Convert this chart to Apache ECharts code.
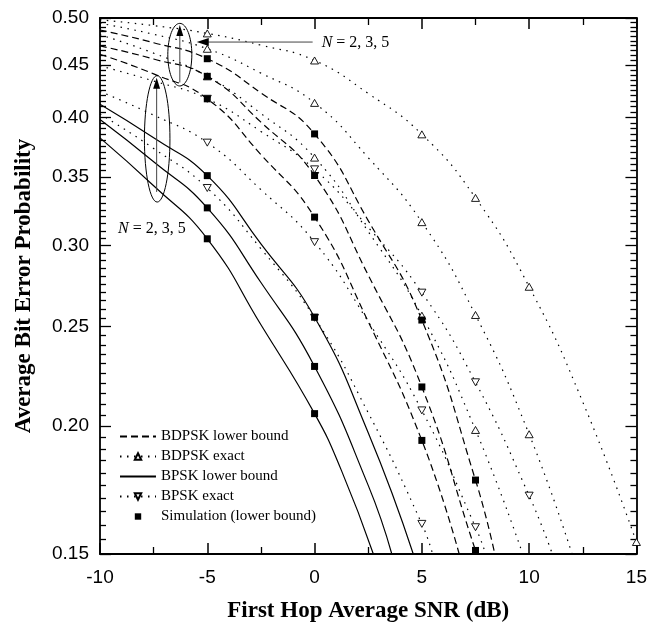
<!DOCTYPE html>
<html>
<head>
<meta charset="utf-8">
<script src="https://cdn.jsdelivr.net/npm/echarts@6.0.0/dist/echarts.min.js"></script>
<style>
html, body { margin: 0; padding: 0; background: #fff; }
#main { width: 650px; height: 628px; }
</style>
</head>
<body>
<div id="main"></div>
<script>
// BER vs first hop SNR ([snr dB, probability])
var yTickLabels = [0.15, 0.20, 0.25, 0.30, 0.35, 0.40, 0.45, 0.50];
var markerSnr = [-5, 0, 5, 7.5, 10, 15];

var bdpskLbN5 = [[-10, 0.4867], [-7.5, 0.473], [-5, 0.4563], [-2.5, 0.4225], [0, 0.3854], [2.5, 0.3172], [5, 0.2537], [7.5, 0.1771], [8.4, 0.15]];
var bdpskLbN3 = [[-10, 0.4696], [-7.5, 0.456], [-5, 0.4386], [-2.5, 0.3957], [0, 0.351], [2.5, 0.2806], [5, 0.2183], [7.5, 0.1512], [7.6, 0.15]];
var bdpskLbN2 = [[-10, 0.4609], [-7.5, 0.441], [-5, 0.417], [-2.5, 0.3679], [0, 0.3197], [2.5, 0.2528], [5, 0.1936], [6.74, 0.15]];

var bdpskExN5 = [[-10, 0.498], [-7.5, 0.4915], [-5, 0.483], [-2.5, 0.4704], [0, 0.4545], [2.5, 0.422], [5, 0.385], [7.5, 0.3338], [10, 0.2734], [12.5, 0.211], [15, 0.1541]];
var bdpskExN3 = [[-10, 0.4941], [-7.5, 0.482], [-5, 0.4666], [-2.5, 0.4418], [0, 0.4132], [2.5, 0.3654], [5, 0.3161], [7.5, 0.2566], [10, 0.1963], [12.0, 0.15]];
var bdpskExN2 = [[-10, 0.4815], [-7.5, 0.462], [-5, 0.4386], [-2.5, 0.4035], [0, 0.3654], [2.5, 0.3095], [5, 0.2562], [7.5, 0.1982], [9.7, 0.15]];

var bpskLbN5 = [[-10, 0.412], [-7.5, 0.382], [-5, 0.3509], [-2.5, 0.301], [0, 0.2553], [2.5, 0.197], [4.6, 0.15]];
var bpskLbN3 = [[-10, 0.398], [-7.5, 0.362], [-5, 0.3264], [-2.5, 0.276], [0, 0.2286], [2.5, 0.175], [3.6, 0.15]];
var bpskLbN2 = [[-10, 0.382], [-7.5, 0.343], [-5, 0.3045], [-2.5, 0.251], [0, 0.2056], [1.25, 0.181], [2.74, 0.15]];

var bpskExN5 = [[-10, 0.449], [-7.5, 0.434], [-5, 0.417], [-2.5, 0.3875], [0, 0.3559], [2.5, 0.3125], [5, 0.2698], [7.5, 0.2206], [10, 0.171], [11.08, 0.15]];
var bpskExN3 = [[-10, 0.424], [-7.5, 0.402], [-5, 0.3779], [-2.5, 0.340], [0, 0.3022], [2.5, 0.2528], [5, 0.2071], [7.5, 0.1593], [7.98, 0.15]];
var bpskExN2 = [[-10, 0.403], [-7.5, 0.373], [-5, 0.3413], [-2.5, 0.2978], [0, 0.255], [2.5, 0.206], [5, 0.1605], [5.5, 0.15]];

var lg = function (v) { return Math.log10(v); };
var serif = "'Liberation Serif', 'Times New Roman', serif";
var sans = "'Liberation Sans', Arial, sans-serif";

var majorLog = yTickLabels.map(lg);
var minorLog = [];
for (var i = 31; i < 100; i++) {
	if (i % 10 != 0) minorLog.push(lg(i * 0.005));
}

var DASH = [7, 4];
var DOT = [1.5, 5.5];

function curve(name, pts, dash, marker, rotate) {
	var data = pts.map(function (p) {
		var mark = marker && markerSnr.indexOf(p[0]) >= 0;
		return { value: [p[0], lg(p[1])], symbol: mark ? marker : 'none' };
	});
	return {
		type: 'line', name: name, data: data,
		smooth: 0.5,
		showSymbol: true, showAllSymbol: true,
		symbol: marker || 'none', symbolSize: [8, 7], symbolRotate: rotate || 0,
		lineStyle: { color: '#000', width: 1.2, type: dash },
		itemStyle: marker ? { color: '#fff', borderColor: '#000', borderWidth: 0.9 } : { color: '#000', opacity: 0 },
		silent: true
	};
}

function simPoints(curves) {
	var out = [];
	curves.forEach(function (c) {
		c.forEach(function (p) {
			if (markerSnr.indexOf(p[0]) >= 0) out.push([p[0], lg(p[1])]);
		});
	});
	return out;
}

var series = [
	curve('BDPSK lower bound', bdpskLbN5, DASH),
	curve('BDPSK lower bound', bdpskLbN3, DASH),
	curve('BDPSK lower bound', bdpskLbN2, DASH),
	curve('BDPSK exact', bdpskExN5, DOT, 'triangle'),
	curve('BDPSK exact', bdpskExN3, DOT, 'triangle'),
	curve('BDPSK exact', bdpskExN2, DOT, 'triangle'),
	curve('BPSK lower bound', bpskLbN5, 'solid'),
	curve('BPSK lower bound', bpskLbN3, 'solid'),
	curve('BPSK lower bound', bpskLbN2, 'solid'),
	curve('BPSK exact', bpskExN5, DOT, 'triangle', 180),
	curve('BPSK exact', bpskExN3, DOT, 'triangle', 180),
	curve('BPSK exact', bpskExN2, DOT, 'triangle', 180),
	{
		// markers only: the connecting line is hidden
		type: 'line', name: 'Simulation (lower bound)',
		data: simPoints([bdpskLbN5, bdpskLbN3, bdpskLbN2, bpskLbN5, bpskLbN3, bpskLbN2]),
		symbol: 'rect', symbolSize: 7, showAllSymbol: true,
		lineStyle: { width: 0, opacity: 0 },
		itemStyle: { color: '#000' }, silent: true, z: 5
	}
];

var axisLine = { show: true, onZero: false, lineStyle: { color: '#000', width: 1.8 } };
var yMin = lg(0.15), yMax = lg(0.5);

function yAx(pos, values, len, major) {
	return {
		type: 'value', min: yMin, max: yMax, position: pos,
		axisLine: major ? axisLine : { show: false, onZero: false },
		axisTick: { show: true, inside: true, length: len, customValues: values, lineStyle: { color: '#000', width: 1.3 } },
		axisLabel: { show: false },
		splitLine: { show: false }
	};
}

var yLeft = yAx('left', majorLog, 11, true);
yLeft.axisLabel = {
	show: true, customValues: majorLog, margin: 11,
	formatter: function (v) { return Math.pow(10, v).toFixed(2); },
	color: '#000', fontFamily: sans, fontSize: 19
};
yLeft.name = 'Average Bit Error Probability';
yLeft.nameLocation = 'middle';
yLeft.nameGap = 64;
yLeft.nameTextStyle = { fontFamily: serif, fontWeight: 'bold', fontSize: 23, color: '#000' };

function xAx(pos) {
	return {
		type: 'value', min: -10, max: 15, interval: 5, position: pos,
		axisLine: axisLine,
		axisTick: { inside: true, length: 11, lineStyle: { color: '#000', width: 1.5 } },
		minorTick: { show: true, splitNumber: 2, length: 7, lineStyle: { color: '#000', width: 1.3 } },
		axisLabel: { show: pos == 'bottom', color: '#000', fontFamily: sans, fontSize: 19, margin: 14 },
		splitLine: { show: false }, minorSplitLine: { show: false }
	};
}
var xBottom = xAx('bottom');
xBottom.name = 'First Hop Average SNR (dB)';
xBottom.nameLocation = 'middle';
xBottom.nameGap = 46;
xBottom.nameTextStyle = { fontFamily: serif, fontWeight: 'bold', fontSize: 23, color: '#000' };

var option = {
	backgroundColor: '#fff',
	animation: false,
	grid: { left: 100, top: 18, width: 537.5, height: 539 },
	xAxis: [xBottom, xAx('top')],
	yAxis: [yLeft, yAx('left', minorLog, 6, false), yAx('right', majorLog, 11, true), yAx('right', minorLog, 6, false)],
	legend: {
		orient: 'vertical', left: 114, top: 424,
		itemWidth: 36, itemHeight: 8, itemGap: 5,
		selectedMode: false,
		textStyle: { fontFamily: serif, fontSize: 15, color: '#000', lineHeight: 15 },
		data: ['BDPSK lower bound', 'BDPSK exact', 'BPSK lower bound', 'BPSK exact', 'Simulation (lower bound)']
	},
	series: series
};

var chart = echarts.init(document.getElementById('main'), null, { renderer: 'canvas' });
chart.setOption(option);

// annotations (ellipses, arrows, N labels) placed in data coordinates
function px(x, p) { return chart.convertToPixel({ xAxisIndex: 0, yAxisIndex: 0 }, [x, lg(p)]); }

function ellipse(x1, x2, p1, p2) {
	var a = px(x1, p1), b = px(x2, p2);
	return {
		type: 'ellipse', silent: true, z: 20,
		shape: { cx: (a[0] + b[0]) / 2, cy: (a[1] + b[1]) / 2, rx: Math.abs(b[0] - a[0]) / 2, ry: Math.abs(b[1] - a[1]) / 2 },
		style: { fill: 'none', stroke: '#000', lineWidth: 1 }
	};
}
function arrowUp(x, p1, p2) {
	var a = px(x, p1), b = px(x, p2);
	return [
		{ type: 'line', silent: true, z: 20, shape: { x1: a[0], y1: a[1], x2: b[0], y2: b[1] + 8 }, style: { stroke: '#444', lineWidth: 1 } },
		{ type: 'polygon', silent: true, z: 20, shape: { points: [[b[0], b[1]], [b[0] - 3.5, b[1] + 11], [b[0] + 3.5, b[1] + 11]] }, style: { fill: '#000' } }
	];
}
function arrowLeft(x1, x2, p) {
	var a = px(x1, p), b = px(x2, p);
	return [
		{ type: 'line', silent: true, z: 20, shape: { x1: a[0], y1: a[1], x2: b[0] + 8, y2: b[1] }, style: { stroke: '#444', lineWidth: 1 } },
		{ type: 'polygon', silent: true, z: 20, shape: { points: [[b[0], b[1]], [b[0] + 12, b[1] - 4], [b[0] + 12, b[1] + 4]] }, style: { fill: '#000' } }
	];
}
function nLabel(x, p) {
	var a = px(x, p);
	return {
		type: 'text', silent: true, z: 20, x: a[0], y: a[1],
		style: {
			text: '{i|N} = 2, 3, 5', fill: '#000', fontFamily: serif, fontSize: 16,
			verticalAlign: 'middle', align: 'left',
			rich: { i: { fontStyle: 'italic', fontFamily: serif, fontSize: 16 } }
		}
	};
}

var graphics = [
	ellipse(-6.84, -5.72, 0.494, 0.4292),
	ellipse(-7.93, -6.74, 0.4393, 0.3307),
	nLabel(0.33, 0.4729),
	nLabel(-9.16, 0.3114)
].concat(arrowUp(-6.28, 0.4326, 0.4922), arrowUp(-7.36, 0.3383, 0.4372), arrowLeft(-0.09, -5.49, 0.4737));

chart.setOption({ graphic: graphics });
</script>
</body>
</html>
